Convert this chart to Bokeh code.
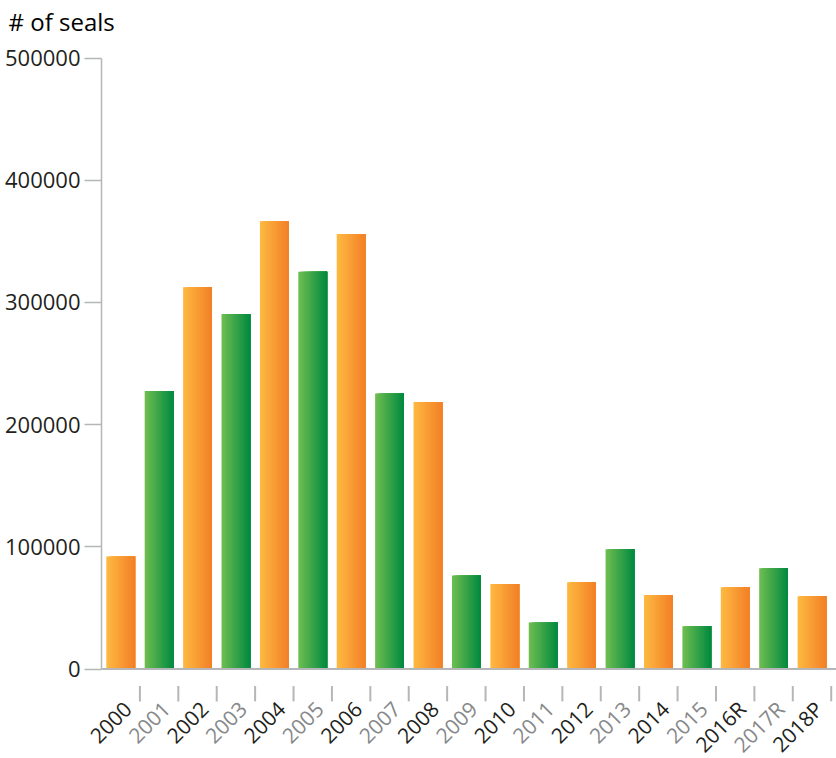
import math
from bokeh.plotting import figure
from bokeh.models import (ColumnDataSource, Range1d, LinearAxis, FixedTicker,
                          Label, LabelSet, BasicTickFormatter)
from bokeh.core.properties import value
from bokeh.embed import file_html
from bokeh.resources import INLINE

# ---- data ----
years = ["2000", "2001", "2002", "2003", "2004", "2005", "2006", "2007", "2008", "2009",
         "2010", "2011", "2012", "2013", "2014", "2015", "2016R", "2017R", "2018P"]
seals = [92000, 227500, 312500, 290500, 366500, 325000, 356000, 225500, 218500, 76500,
         69500, 38000, 71000, 98000, 60500, 35000, 67000, 82500, 59500]
y_ticks = [0, 100000, 200000, 300000, 400000, 500000]
title_text = "# of seals"

# ---- styles ----
FONT = "Open Sans"
TXT = "#231F20"
GRAY_TXT = "#86888A"
AXIS_GRAY = "#B4B6B9"
ORANGE = ((253, 186, 66), (243, 127, 38))
GREEN = ((112, 190, 80), (0, 137, 64))

W, H = 836, 758
LEFT_PX = 101.0       # where the y axis sits
RIGHT_PX = 830.7      # last category boundary
ZERO_PX = 668.5
PX_PER = 611.0 / 500000.0

n = len(years)
pitch = (RIGHT_PX - LEFT_PX) / n
x_start = -LEFT_PX / pitch
x_end = (W - LEFT_PX) / pitch
y_end = ZERO_PX / PX_PER
y_start = -(H - ZERO_PX) / PX_PER

p = figure(width=W, height=H, x_range=Range1d(x_start, x_end), y_range=Range1d(y_start, y_end),
           output_backend="svg", toolbar_location=None, tools="",
           min_border=0, min_border_left=0, min_border_right=0, min_border_top=0,
           min_border_bottom=0)
p.xaxis.visible = False
p.yaxis.visible = False
p.xgrid.visible = False
p.ygrid.visible = False
p.outline_line_color = None
p.background_fill_color = "white"
p.border_fill_color = "white"

# category index -> slot centre on the numeric scale
centers = [i + 0.5 for i in range(n)]


def mix(c, t):
    a, b = c
    return "#%02x%02x%02x" % tuple(int(round(a[i] + (b[i] - a[i]) * t)) for i in range(3))


# gradient bars drawn as overlapping slices
BAR_W = 0.75
N = 16
step = BAR_W / N
for k in range(N):
    t = (k + 0.5) / N
    cols = [mix(ORANGE if i % 2 == 0 else GREEN, t) for i in range(n)]
    src = ColumnDataSource(dict(x=[c + k * step / 2 for c in centers], count=seals, color=cols))
    p.vbar(x="x", top="count", bottom=0, width=BAR_W - k * step,
           fill_color="color", line_color=None, source=src)

# baseline
p.segment(x0=0, x1=x_end, y0=0, y1=0, line_color=AXIS_GRAY, line_width=2)

# y axis, fixed at the left edge of the categories
yax = LinearAxis(ticker=FixedTicker(ticks=y_ticks), bounds=(0, 500000), fixed_location=0,
                 formatter=BasicTickFormatter(use_scientific=False))
yax.axis_line_color = AXIS_GRAY
yax.axis_line_width = 1.5
yax.major_tick_line_color = AXIS_GRAY
yax.major_tick_line_width = 1.5
yax.major_tick_out = 17
yax.major_tick_in = 0
yax.minor_tick_line_color = None
yax.major_label_text_font = FONT
yax.major_label_text_font_size = "22px"
yax.major_label_text_color = TXT
yax.major_label_standoff = 4
p.add_layout(yax, "left")

# category separator ticks below the axis
bounds_x = [i + 1 for i in range(n)]
p.segment(x0=bounds_x, x1=bounds_x, y0=-14000, y1=-26500, line_color=AXIS_GRAY, line_width=2)

# rotated category labels with alternating colors
lab_cols = [TXT if i % 2 == 0 else GRAY_TXT for i in range(n)]
lab_src = ColumnDataSource(dict(x=[c + 0.18 for c in centers], year=years, color=lab_cols,
                                y=[-29500] * n))
labels = LabelSet(x="x", y="y", text="year", source=lab_src,
                  angle=math.pi / 4, text_align="right", text_baseline="middle",
                  text_font=value(FONT), text_font_size=value("21px"), text_color="color")
p.add_layout(labels)

# chart title (axis caption)
p.add_layout(Label(x=x_start + 8 / pitch, y=(ZERO_PX - 21) / PX_PER, text=title_text,
                   text_font=FONT, text_font_size="24px", text_color="#000000",
                   text_align="left", text_baseline="alphabetic"))

open("out.html", "w").write(file_html(p, INLINE))
